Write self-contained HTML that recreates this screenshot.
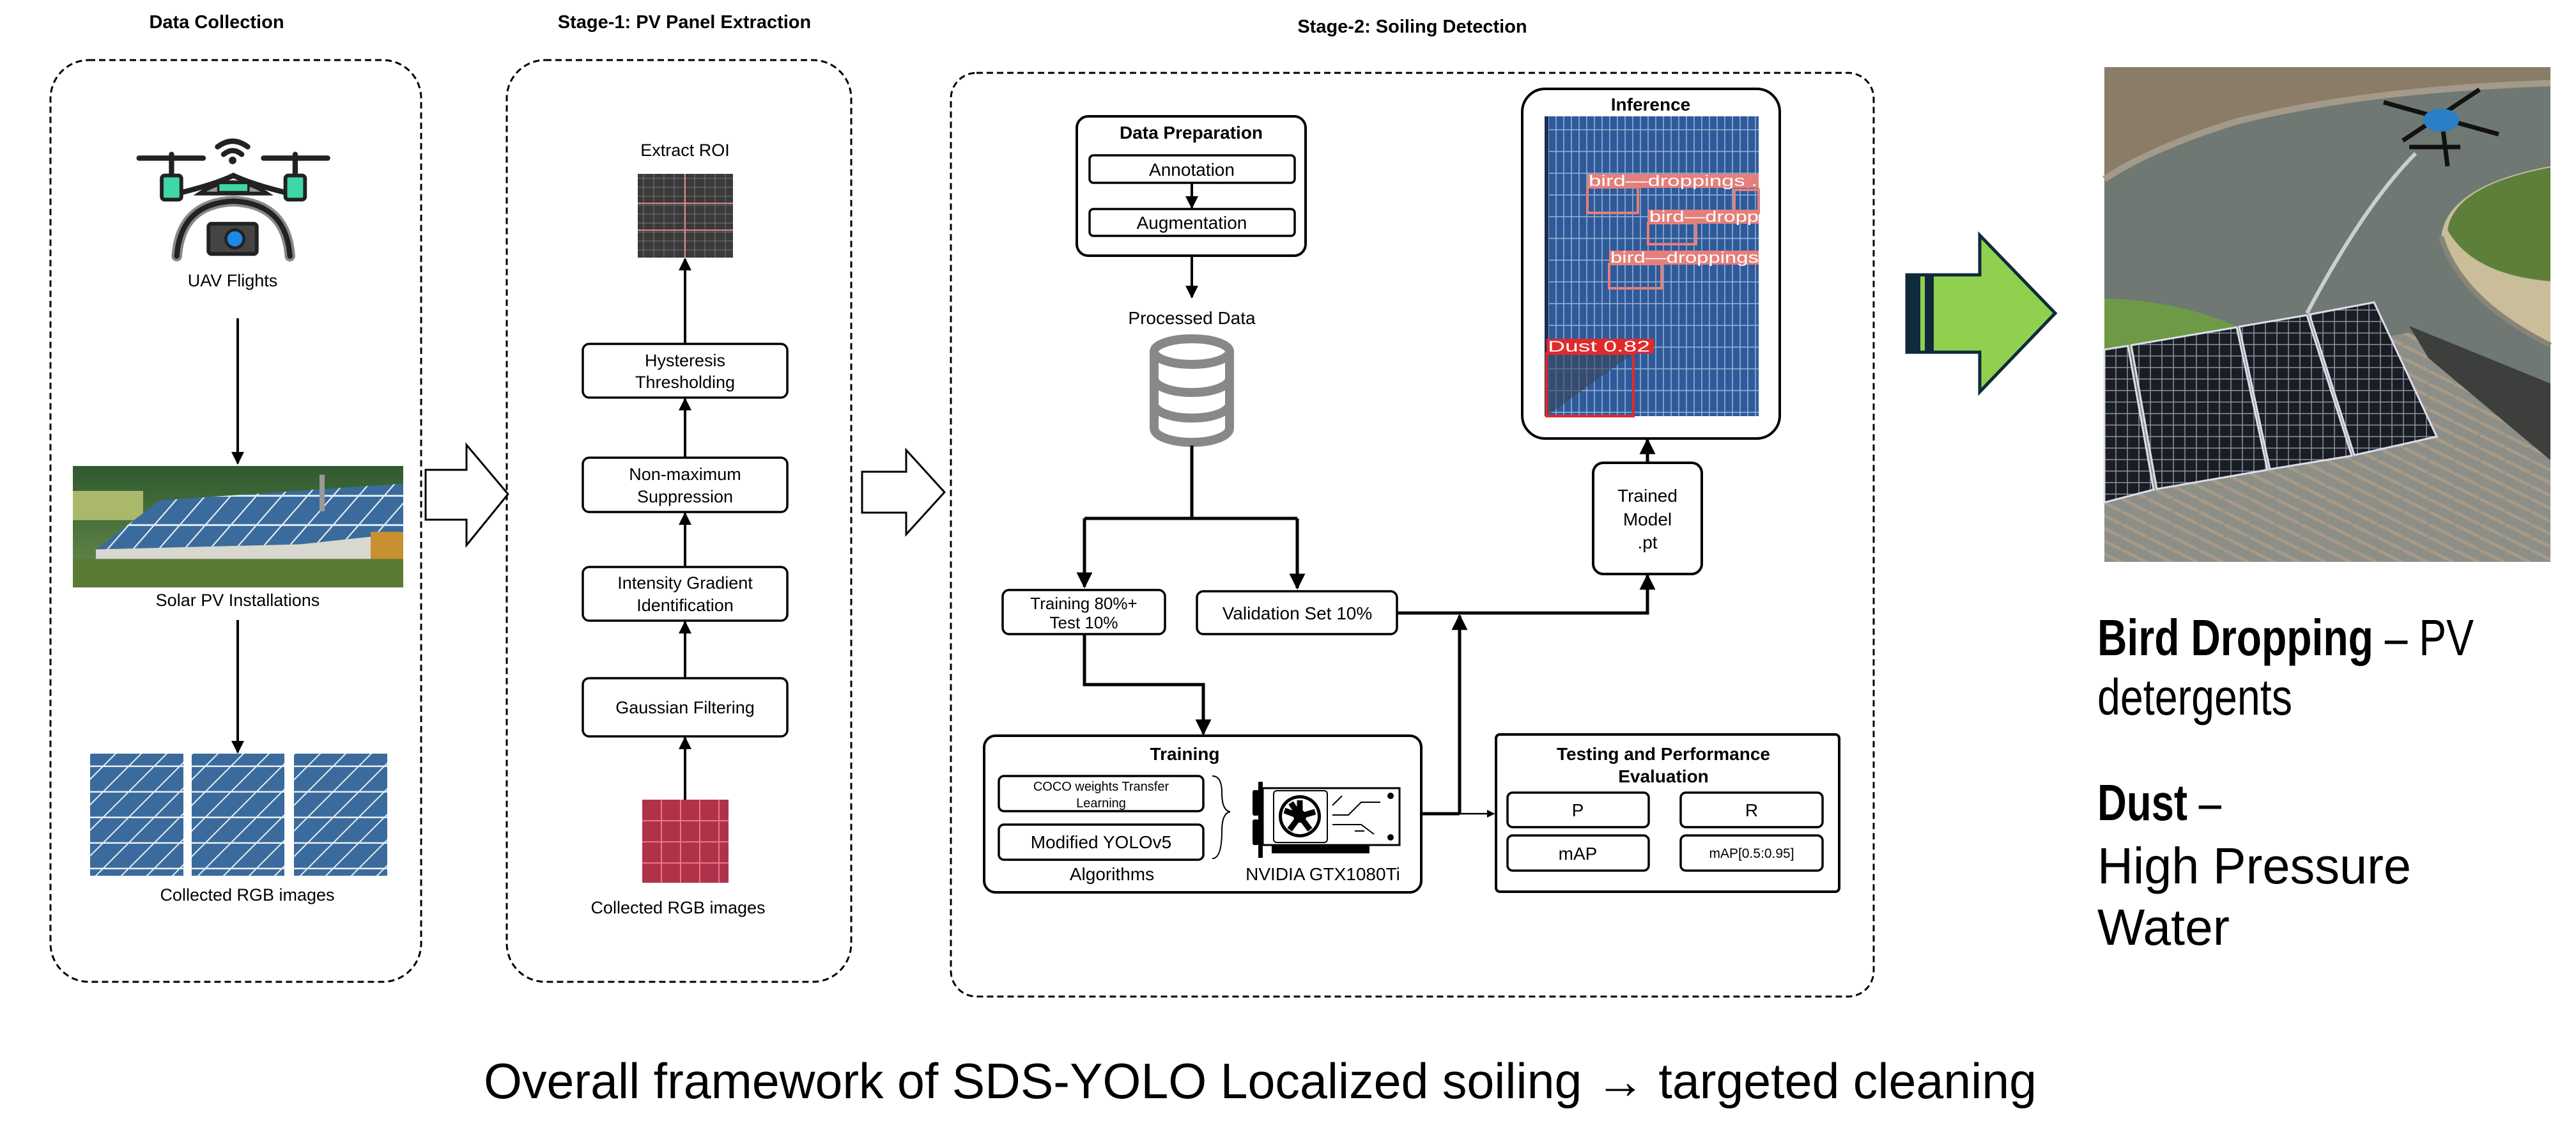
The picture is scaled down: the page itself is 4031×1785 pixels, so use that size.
<!DOCTYPE html>
<html><head><meta charset="utf-8"><style>
html,body{margin:0;padding:0;background:#fff;}
svg{display:block;}
text{font-family:"Liberation Sans",Arial,sans-serif;}
</style></head><body>
<svg width="4031" height="1785" viewBox="0 0 4031 1785" xmlns="http://www.w3.org/2000/svg">
<defs>
<marker id="ah" viewBox="0 0 10 10" refX="9" refY="5" markerWidth="5" markerHeight="5" orient="auto-start-reverse" markerUnits="strokeWidth">
<path d="M0,0 L10,5 L0,10 z" fill="#000"/></marker>
<pattern id="pan" width="40" height="40" patternUnits="userSpaceOnUse">
<rect width="40" height="40" fill="#3a6b9c"/>
<path d="M0,40 L40,0 M-10,10 L10,-10 M30,50 L50,30" stroke="#e8eef5" stroke-width="2"/>
<path d="M0,39 H40" stroke="#e8eef5" stroke-width="3"/>
</pattern>
<pattern id="inf" width="12" height="34" patternUnits="userSpaceOnUse">
<rect width="12" height="34" fill="#2f5a9a"/>
<path d="M11,0 V34 M0,33 H12" stroke="#9bb3d8" stroke-width="1.5"/>
</pattern>
<pattern id="roi" width="16" height="14" patternUnits="userSpaceOnUse">
<rect width="16" height="14" fill="#3a3a3a"/>
<path d="M15,0 V14 M0,13 H16" stroke="#777" stroke-width="1"/>
</pattern>
<pattern id="cell" width="18" height="18" patternUnits="userSpaceOnUse">
<rect width="18" height="18" fill="#1a1d24"/>
<path d="M17,0 V18 M0,17 H18" stroke="#8a93a0" stroke-width="1.5"/>
</pattern>
<pattern id="roofp" width="40" height="20" patternUnits="userSpaceOnUse">
<rect width="40" height="20" fill="#8c8f88"/>
<path d="M0,0 L40,20" stroke="#a89a86" stroke-width="5"/>
</pattern>
<linearGradient id="sky" x1="0" y1="0" x2="0" y2="1">
<stop offset="0" stop-color="#2f5a30"/><stop offset="1" stop-color="#6b8c4a"/></linearGradient>
</defs>

<!-- Titles -->
<text x="339" y="44" font-size="29" font-weight="bold" text-anchor="middle">Data Collection</text>
<text x="1071" y="44" font-size="29" font-weight="bold" text-anchor="middle">Stage-1: PV Panel Extraction</text>
<text x="2210" y="51" font-size="29" font-weight="bold" text-anchor="middle">Stage-2: Soiling Detection</text>

<!-- Dashed containers -->
<rect x="79" y="94" width="580" height="1442" rx="60" fill="none" stroke="#000" stroke-width="3" stroke-dasharray="10 6"/>
<rect x="793" y="94" width="539" height="1442" rx="60" fill="none" stroke="#000" stroke-width="3" stroke-dasharray="10 6"/>
<rect x="1488" y="114" width="1444" height="1445" rx="40" fill="none" stroke="#000" stroke-width="3" stroke-dasharray="10 6"/>

<!-- Drone icon -->
<g transform="translate(364,212) scale(1.18) translate(-364,-185)">
<g stroke="#222" stroke-width="7" fill="none" stroke-linecap="round">
<line x1="240" y1="215" x2="325" y2="215"/><line x1="405" y1="215" x2="490" y2="215"/>
<line x1="283" y1="210" x2="283" y2="240"/><line x1="447" y1="210" x2="447" y2="240"/>
<path d="M290,262 Q340,250 365,238 Q390,250 440,262"/>
<path d="M290,345 Q295,275 365,272 Q435,275 440,345" stroke="#888" stroke-width="14"/>
<path d="M290,345 Q295,275 365,272 Q435,275 440,345"/>
<path d="M344,200 Q364,185 384,200 M352,210 Q364,200 376,210"/>
</g>
<circle cx="364" cy="218" r="5" fill="#222"/>
<rect x="270" y="238" width="26" height="32" rx="4" fill="#3fd6a8" stroke="#222" stroke-width="5"/>
<rect x="434" y="238" width="26" height="32" rx="4" fill="#3fd6a8" stroke="#222" stroke-width="5"/>
<path d="M320,262 Q365,232 410,262 Z" fill="#999" stroke="#222" stroke-width="5"/>
<rect x="345" y="248" width="40" height="12" fill="#3fd6a8" stroke="#222" stroke-width="3"/>
<rect x="332" y="302" width="64" height="40" rx="4" fill="#444" stroke="#222" stroke-width="5"/>
<circle cx="367" cy="322" r="12" fill="#1e88e5" stroke="#222" stroke-width="4"/>
</g>
<text x="364" y="448" font-size="27" text-anchor="middle">UAV Flights</text>
<line x1="372" y1="498" x2="372" y2="725" stroke="#000" stroke-width="4" marker-end="url(#ah)"/>

<!-- Solar PV photo -->
<g transform="translate(0,729) scale(1,1.1446) translate(0,-638)">
<rect x="114" y="638" width="517" height="166" fill="url(#sky)"/>
<rect x="114" y="672" width="110" height="40" fill="#a9b86a"/>
<polygon points="250,685 631,662 631,730 470,745 150,752" fill="url(#pan)"/>
<polygon points="150,752 470,745 631,730 631,770 150,780" fill="#d8d8d0"/>
<rect x="580" y="728" width="51" height="60" fill="#c9902f"/>
<rect x="114" y="765" width="517" height="39" fill="#5b7a33"/>
<rect x="500" y="650" width="8" height="50" fill="#999"/>
</g>
<text x="372" y="948" font-size="27" text-anchor="middle">Solar PV Installations</text>
<line x1="372" y1="970" x2="372" y2="1177" stroke="#000" stroke-width="4" marker-end="url(#ah)"/>
<rect x="141" y="1179" width="146" height="191" fill="url(#pan)"/>
<rect x="300" y="1179" width="145" height="191" fill="url(#pan)"/>
<rect x="460" y="1179" width="146" height="191" fill="url(#pan)"/>
<text x="387" y="1409" font-size="27" text-anchor="middle">Collected RGB images</text>

<!-- Hollow arrows -->
<polygon points="666,735 730,735 730,696 795,773 730,853 730,813 666,813" fill="#fff" stroke="#000" stroke-width="3"/>
<polygon points="1349,738 1418,738 1418,704 1478,770 1418,836 1418,802 1349,802" fill="#fff" stroke="#000" stroke-width="3"/>

<!-- Stage 1 -->
<text x="1072" y="244" font-size="27" text-anchor="middle">Extract ROI</text>
<rect x="998" y="272" width="149" height="131" fill="url(#roi)"/>
<path d="M998,318 H1147 M998,360 H1147 M1072,272 V403" stroke="#d88" stroke-width="2"/>
<g fill="#fff" stroke="#000" stroke-width="3.5">
<rect x="912" y="538" width="320" height="84" rx="10"/>
<rect x="912" y="716" width="320" height="85" rx="10"/>
<rect x="912" y="887" width="320" height="84" rx="10"/>
<rect x="912" y="1061" width="320" height="91" rx="10"/>
</g>
<g font-size="27" text-anchor="middle">
<text x="1072" y="573">Hysteresis</text><text x="1072" y="607">Thresholding</text>
<text x="1072" y="751">Non-maximum</text><text x="1072" y="786">Suppression</text>
<text x="1072" y="921">Intensity Gradient</text><text x="1072" y="956">Identification</text>
<text x="1072" y="1116">Gaussian Filtering</text>
</g>
<g stroke="#000" stroke-width="4">
<line x1="1072" y1="538" x2="1072" y2="405" marker-end="url(#ah)"/>
<line x1="1072" y1="716" x2="1072" y2="624" marker-end="url(#ah)"/>
<line x1="1072" y1="887" x2="1072" y2="803" marker-end="url(#ah)"/>
<line x1="1072" y1="1061" x2="1072" y2="973" marker-end="url(#ah)"/>
<line x1="1072" y1="1251" x2="1072" y2="1154" marker-end="url(#ah)"/>
</g>
<rect x="1005" y="1251" width="135" height="130" fill="#b0324a"/>
<path d="M1005,1284 H1140 M1005,1317 H1140 M1005,1350 H1140 M1035,1251 V1381 M1065,1251 V1381 M1095,1251 V1381 M1125,1251 V1381" stroke="#e8787e" stroke-width="2"/>
<text x="1061" y="1429" font-size="27" text-anchor="middle">Collected RGB images</text>

<!-- Stage 2: Data prep -->
<rect x="1685" y="182" width="358" height="218" rx="18" fill="#fff" stroke="#000" stroke-width="4"/>
<text x="1864" y="217" font-size="28" font-weight="bold" text-anchor="middle">Data Preparation</text>
<rect x="1705" y="243" width="321" height="43" rx="6" fill="#fff" stroke="#000" stroke-width="3.5"/>
<rect x="1705" y="327" width="321" height="42" rx="6" fill="#fff" stroke="#000" stroke-width="3.5"/>
<text x="1865" y="275" font-size="28" text-anchor="middle">Annotation</text>
<text x="1865" y="358" font-size="28" text-anchor="middle">Augmentation</text>
<g stroke="#000" stroke-width="4" fill="none">
<line x1="1865" y1="286" x2="1865" y2="325" marker-end="url(#ah)"/>
<line x1="1865" y1="400" x2="1865" y2="465" marker-end="url(#ah)"/>
</g>
<text x="1865" y="507" font-size="28" text-anchor="middle">Processed Data</text>
<!-- DB -->
<g fill="#fff" stroke="#888" stroke-width="14">
<path d="M1806,550 V670 A59,22 0 0 0 1924,670 V550"/>
<ellipse cx="1865" cy="550" rx="59" ry="20"/>
<path d="M1806,592 A59,22 0 0 0 1924,592 M1806,632 A59,22 0 0 0 1924,632" fill="none"/>
</g>
<g stroke="#000" stroke-width="5" fill="none">
<line x1="1865" y1="697" x2="1865" y2="811"/>
<line x1="1697" y1="811" x2="2030" y2="811"/>
<line x1="1697" y1="811" x2="1697" y2="918" marker-end="url(#ah)"/>
<line x1="2030" y1="811" x2="2030" y2="920" marker-end="url(#ah)"/>
<polyline points="1697,992 1697,1071 1883,1071 1883,1148" marker-end="url(#ah)"/>
<polyline points="2186,959 2578,959 2578,900" marker-end="url(#ah)"/>
<line x1="2578" y1="724" x2="2578" y2="688" marker-end="url(#ah)"/>
<line x1="2224" y1="1273" x2="2284" y2="1273"/>
<line x1="2284" y1="1273" x2="2284" y2="963" marker-end="url(#ah)"/>
</g>
<line x1="2284" y1="1273" x2="2338" y2="1273" stroke="#000" stroke-width="2.5" marker-end="url(#ah)"/>
<rect x="1569" y="923" width="254" height="69" rx="10" fill="#fff" stroke="#000" stroke-width="3.5"/>
<text x="1696" y="953" font-size="26" text-anchor="middle">Training 80%+</text>
<text x="1696" y="983" font-size="26" text-anchor="middle">Test 10%</text>
<rect x="1873" y="925" width="313" height="67" rx="10" fill="#fff" stroke="#000" stroke-width="3.5"/>
<text x="2030" y="969" font-size="28" text-anchor="middle">Validation Set 10%</text>

<!-- Trained model -->
<rect x="2493" y="724" width="170" height="174" rx="16" fill="#fff" stroke="#000" stroke-width="4"/>
<g font-size="28" text-anchor="middle"><text x="2578" y="785">Trained</text><text x="2578" y="822">Model</text><text x="2578" y="858">.pt</text></g>

<!-- Inference -->
<rect x="2382" y="139" width="403" height="547" rx="36" fill="#fff" stroke="#000" stroke-width="4"/>
<text x="2583" y="173" font-size="28" font-weight="bold" text-anchor="middle">Inference</text>
<rect x="2417" y="182" width="335" height="469" fill="url(#inf)"/>
<rect x="2417" y="182" width="6" height="469" fill="#222a55"/>
<g fill="none" stroke="#e57f7a" stroke-width="4">
<rect x="2484" y="293" width="79" height="40"/>
<rect x="2714" y="297" width="38" height="36"/>
<rect x="2579" y="349" width="75" height="33"/>
<rect x="2518" y="413" width="82" height="38"/>
</g>
<g fill="#e57f7a">
<rect x="2484" y="272" width="268" height="22"/>
<rect x="2579" y="328" width="173" height="22"/>
<rect x="2518" y="392" width="234" height="22"/>
<rect x="2420" y="530" width="168" height="23" fill="#e02a2a"/>
</g>
<polygon points="2420,553 2556,553 2420,651" fill="#3b4258" opacity="0.6"/>
<rect x="2420" y="553" width="136" height="98" fill="none" stroke="#e02a2a" stroke-width="4"/>
<g fill="#fff" font-size="24" font-family="DejaVu Sans Mono, monospace">
<text x="2486" y="291" textLength="264" lengthAdjust="spacingAndGlyphs">bird—droppings .</text>
<text x="2581" y="347" textLength="171" lengthAdjust="spacingAndGlyphs">bird—dropp</text>
<text x="2520" y="411" textLength="232" lengthAdjust="spacingAndGlyphs">bird—droppings</text>
<text x="2422" y="550" textLength="160" lengthAdjust="spacingAndGlyphs">Dust 0.82</text>
</g>

<!-- Training box -->
<rect x="1540" y="1151" width="684" height="245" rx="18" fill="#fff" stroke="#000" stroke-width="4"/>
<text x="1854" y="1189" font-size="28" font-weight="bold" text-anchor="middle">Training</text>
<rect x="1563" y="1214" width="320" height="55" rx="8" fill="#fff" stroke="#000" stroke-width="3.5"/>
<text x="1723" y="1237" font-size="20" text-anchor="middle">COCO weights Transfer</text>
<text x="1723" y="1263" font-size="20" text-anchor="middle">Learning</text>
<rect x="1563" y="1290" width="320" height="55" rx="8" fill="#fff" stroke="#000" stroke-width="3.5"/>
<text x="1723" y="1327" font-size="28" text-anchor="middle">Modified YOLOv5</text>
<path d="M1897,1214 Q1912,1214 1912,1240 Q1912,1268 1925,1270 Q1912,1272 1912,1300 Q1912,1343 1897,1343" fill="none" stroke="#000" stroke-width="2"/>
<text x="1740" y="1377" font-size="28" text-anchor="middle">Algorithms</text>
<text x="2070" y="1377" font-size="28" text-anchor="middle">NVIDIA GTX1080Ti</text>
<!-- GPU -->
<rect x="1969" y="1223" width="7" height="119" fill="#000"/>
<rect x="1960" y="1236" width="10" height="40" rx="3" fill="#000"/>
<rect x="1960" y="1282" width="10" height="40" rx="3" fill="#000"/>
<rect x="1976" y="1233" width="214" height="89" fill="#fff" stroke="#000" stroke-width="3"/>
<rect x="1993" y="1237" width="84" height="81" rx="5" fill="#fff" stroke="#000" stroke-width="2"/>
<circle cx="2034" cy="1277" r="33" fill="#000"/>
<circle cx="2034" cy="1277" r="28" fill="#fff"/>
<g stroke="#000" stroke-width="9"><path d="M2034,1277 L2034,1252 M2034,1277 L2058,1270 M2034,1277 L2050,1298 M2034,1277 L2018,1298 M2034,1277 L2010,1268 M2034,1277 L2020,1256"/></g>
<circle cx="2034" cy="1277" r="10" fill="#000"/>
<rect x="1990" y="1322" width="153" height="13" fill="#000"/>
<g stroke="#000" stroke-width="2" fill="none"><path d="M2085,1260 L2100,1245 M2085,1275 H2110 L2130,1255 H2160 M2085,1290 H2130 L2150,1305 M2120,1300 H2135"/></g>
<circle cx="2176" cy="1245" r="5" fill="#000"/><circle cx="2176" cy="1310" r="5" fill="#000"/>

<!-- Testing box -->
<rect x="2341" y="1149" width="537" height="246" rx="6" fill="#fff" stroke="#000" stroke-width="4"/>
<text x="2603" y="1189" font-size="28" font-weight="bold" text-anchor="middle">Testing and Performance</text>
<text x="2603" y="1224" font-size="28" font-weight="bold" text-anchor="middle">Evaluation</text>
<g fill="#fff" stroke="#000" stroke-width="3.5">
<rect x="2359" y="1240" width="221" height="54" rx="8"/>
<rect x="2630" y="1240" width="222" height="54" rx="8"/>
<rect x="2359" y="1307" width="221" height="55" rx="8"/>
<rect x="2630" y="1307" width="222" height="55" rx="8"/>
</g>
<text x="2469" y="1277" font-size="28" text-anchor="middle">P</text>
<text x="2741" y="1277" font-size="28" text-anchor="middle">R</text>
<text x="2469" y="1345" font-size="28" text-anchor="middle">mAP</text>
<text x="2741" y="1342" font-size="21" text-anchor="middle">mAP[0.5:0.95]</text>

<!-- Green arrow -->
<polygon points="2984,430 3098,430 3098,368 3216,490 3098,613 3098,551 2984,551" fill="#8fd14f" stroke="#0f2a3a" stroke-width="5"/>
<rect x="2984" y="430" width="21" height="121" fill="#0f2a3a"/>
<rect x="3012" y="430" width="14" height="121" fill="#0f2a3a"/>

<!-- Photo -->
<rect x="3293" y="105" width="698" height="774" fill="#6f7873"/>
<path d="M3293,105 H3991 V125 Q3700,140 3500,190 Q3370,230 3293,280 Z" fill="#8a7c66"/>
<path d="M3293,280 Q3370,230 3500,190 Q3700,140 3991,130" fill="none" stroke="#a49a8a" stroke-width="10"/>
<path d="M3991,260 Q3830,290 3820,370 Q3850,470 3991,540 Z" fill="#c9bd9a"/>
<path d="M3991,262 Q3840,290 3830,360 Q3870,430 3991,440 Z" fill="#5e7f3a"/>
<path d="M3820,370 Q3850,470 3991,540" fill="none" stroke="#8a8478" stroke-width="8"/>
<path d="M3293,467 Q3420,470 3520,520 L3293,560 Z" fill="#6e9a45"/>
<polygon points="3293,640 3560,560 3770,520 3991,640 3991,879 3293,879" fill="url(#roofp)"/>
<polygon points="3770,510 3991,600 3991,720 3800,560" fill="#3c3f3c"/>
<polygon points="3293,547 3330,541 3370,766 3293,786" fill="url(#cell)" stroke="#dde" stroke-width="3"/>
<polygon points="3335,540 3500,512 3548,735 3375,765" fill="url(#cell)" stroke="#dde" stroke-width="3"/>
<polygon points="3504,511 3610,493 3680,713 3552,734" fill="url(#cell)" stroke="#dde" stroke-width="3"/>
<polygon points="3614,492 3715,473 3813,683 3684,712" fill="url(#cell)" stroke="#dde" stroke-width="3"/>
<path d="M3610,490 Q3700,320 3780,240" stroke="#dfe5e5" stroke-width="6" fill="none" opacity="0.8"/>
<g stroke="#111" stroke-width="7"><path d="M3730,160 L3910,210 M3760,220 L3880,140 M3820,180 L3830,260 M3770,230 H3850"/></g>
<ellipse cx="3820" cy="188" rx="28" ry="18" fill="#2a7fc6"/>

<!-- Right text -->
<g font-size="80">
<text x="3282" y="1025" textLength="589" lengthAdjust="spacingAndGlyphs"><tspan font-weight="bold">Bird Dropping</tspan> – PV</text>
<text x="3282" y="1118" textLength="305" lengthAdjust="spacingAndGlyphs">detergents</text>
<text x="3282" y="1283" textLength="194" lengthAdjust="spacingAndGlyphs"><tspan font-weight="bold">Dust</tspan> –</text>
<text x="3282" y="1382" textLength="491" lengthAdjust="spacingAndGlyphs">High Pressure</text>
<text x="3282" y="1478" textLength="207" lengthAdjust="spacingAndGlyphs">Water</text>
</g>

<!-- Caption -->
<text x="757" y="1718" font-size="78" textLength="2430" lengthAdjust="spacingAndGlyphs">Overall framework of SDS-YOLO Localized soiling → targeted cleaning</text>
</svg>
</body></html>
